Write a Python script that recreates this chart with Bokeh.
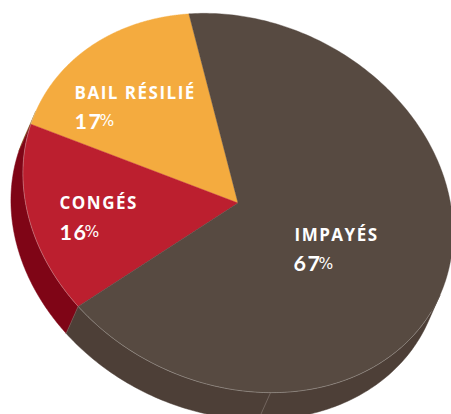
import numpy as np
from bokeh.core.properties import value
from bokeh.embed import file_html
from bokeh.models import Range1d
from bokeh.plotting import figure
from bokeh.resources import INLINE

categories = ["BAIL RÉSILIÉ", "CONGÉS", "IMPAYÉS"]
shares = [17, 16, 67]
top_colors = ["#F4AB3F", "#BC1F2F", "#574A41"]
side_colors = ["#8A6A2A", "#7F0516", "#4D3F37"]

# Tilted disc: centre, semi-axes, rotation, extrusion vector, first slice boundary
CX, CY = 237.5, 202.5
A, B = 222.0, 181.5
PHI = np.radians(25.5)
DX, DY = -12.0, 27.0
START = 235.5
WALL_JOINT = 60.0

# Label anchors: (category x, category baseline, value x, value baseline, percent x)
anchors = [(74, 91.5, 74, 120.5, 99), (59, 201.5, 59, 231.5, 84), (294, 234, 293, 263, 318)]


def rim(t_deg):
    t = np.radians(t_deg)
    x = CX + A * np.cos(t) * np.cos(PHI) - B * np.sin(t) * np.sin(PHI)
    y = CY + A * np.cos(t) * np.sin(PHI) + B * np.sin(t) * np.cos(PHI)
    return x, y


p = figure(width=451, height=414, output_backend="svg", toolbar_location=None,
           x_axis_type=None, y_axis_type=None, min_border=0,
           x_range=Range1d(0, 451), y_range=Range1d(414, 0),
           background_fill_color="white", border_fill_color="white",
           outline_line_color=None)
p.grid.visible = False
# Tracking inherited by every text element in the canvas
p.styles = {"letter-spacing": "1.5px"}

# Parametric slice boundaries, running clockwise on the page from the top
bounds = [START]
for s in shares:
    bounds.append(bounds[-1] - s * 3.6)

# Part of the rim facing the viewer, where the extruded wall shows
u = (DX * np.cos(PHI) + DY * np.sin(PHI)) / A
v = (-DX * np.sin(PHI) + DY * np.cos(PHI)) / B
mid = np.degrees(np.arctan2(v, u))
vis_lo, vis_hi = mid - 90, mid + 90

for i in range(3):
    hi, lo = bounds[i], bounds[i + 1]
    # Walls: overlap of the slice with the visible rim, also tried one turn later
    for shift in (0, 360, -360):
        a = max(lo + shift, vis_lo)
        b = min(hi + shift, vis_hi)
        if b > a:
            ts = np.linspace(a, b, 120)
            x, y = rim(ts)
            p.patch(np.r_[x, (x + DX)[::-1]], np.r_[y, (y + DY)[::-1]],
                    fill_color=side_colors[i], line_color=side_colors[i], line_width=0.5)

for i in range(3):
    hi, lo = bounds[i], bounds[i + 1]
    ts = np.linspace(lo, hi, 300)
    x, y = rim(ts)
    p.patch(np.r_[CX, x], np.r_[CY, y], fill_color=top_colors[i],
            line_color=top_colors[i], line_width=0.4)

# Pale highlight along the front edge of the disc
ts = np.linspace(vis_lo + 6, vis_hi, 400)
x, y = rim(ts)
p.line(x, y, line_color="#D9D4CF", line_width=0.6, line_alpha=0.6)

# Seams on the wall: one at the red slice's edge, one joint lower down
x0, y0 = rim(bounds[2])
p.line([x0, x0 + DX], [y0, y0 + DY], line_color="#9A6A6A", line_width=0.6, line_alpha=0.7)
sx, sy = rim(WALL_JOINT)
p.line([sx, sx + DX], [sy, sy + DY], line_color="#8C8078", line_width=0.6)

for cat, val, (cx, cy, vx, vy, px) in zip(categories, shares, anchors):
    p.text([cx], [cy], text=[cat], text_color="white", text_font=value("Open Sans"),
           text_font_size="17px", text_font_style="bold", text_baseline="alphabetic")
    p.text([vx], [vy], text=[str(val)], text_color="white", text_font=value("Lato"),
           text_font_size="21.5px", text_font_style="bold", text_baseline="alphabetic")
    p.text([px], [vy], text=["%"], text_color="white", text_font=value("DejaVu Sans"),
           text_font_size="15.5px", text_baseline="alphabetic")

open("out.html", "w").write(file_html(p, INLINE))
